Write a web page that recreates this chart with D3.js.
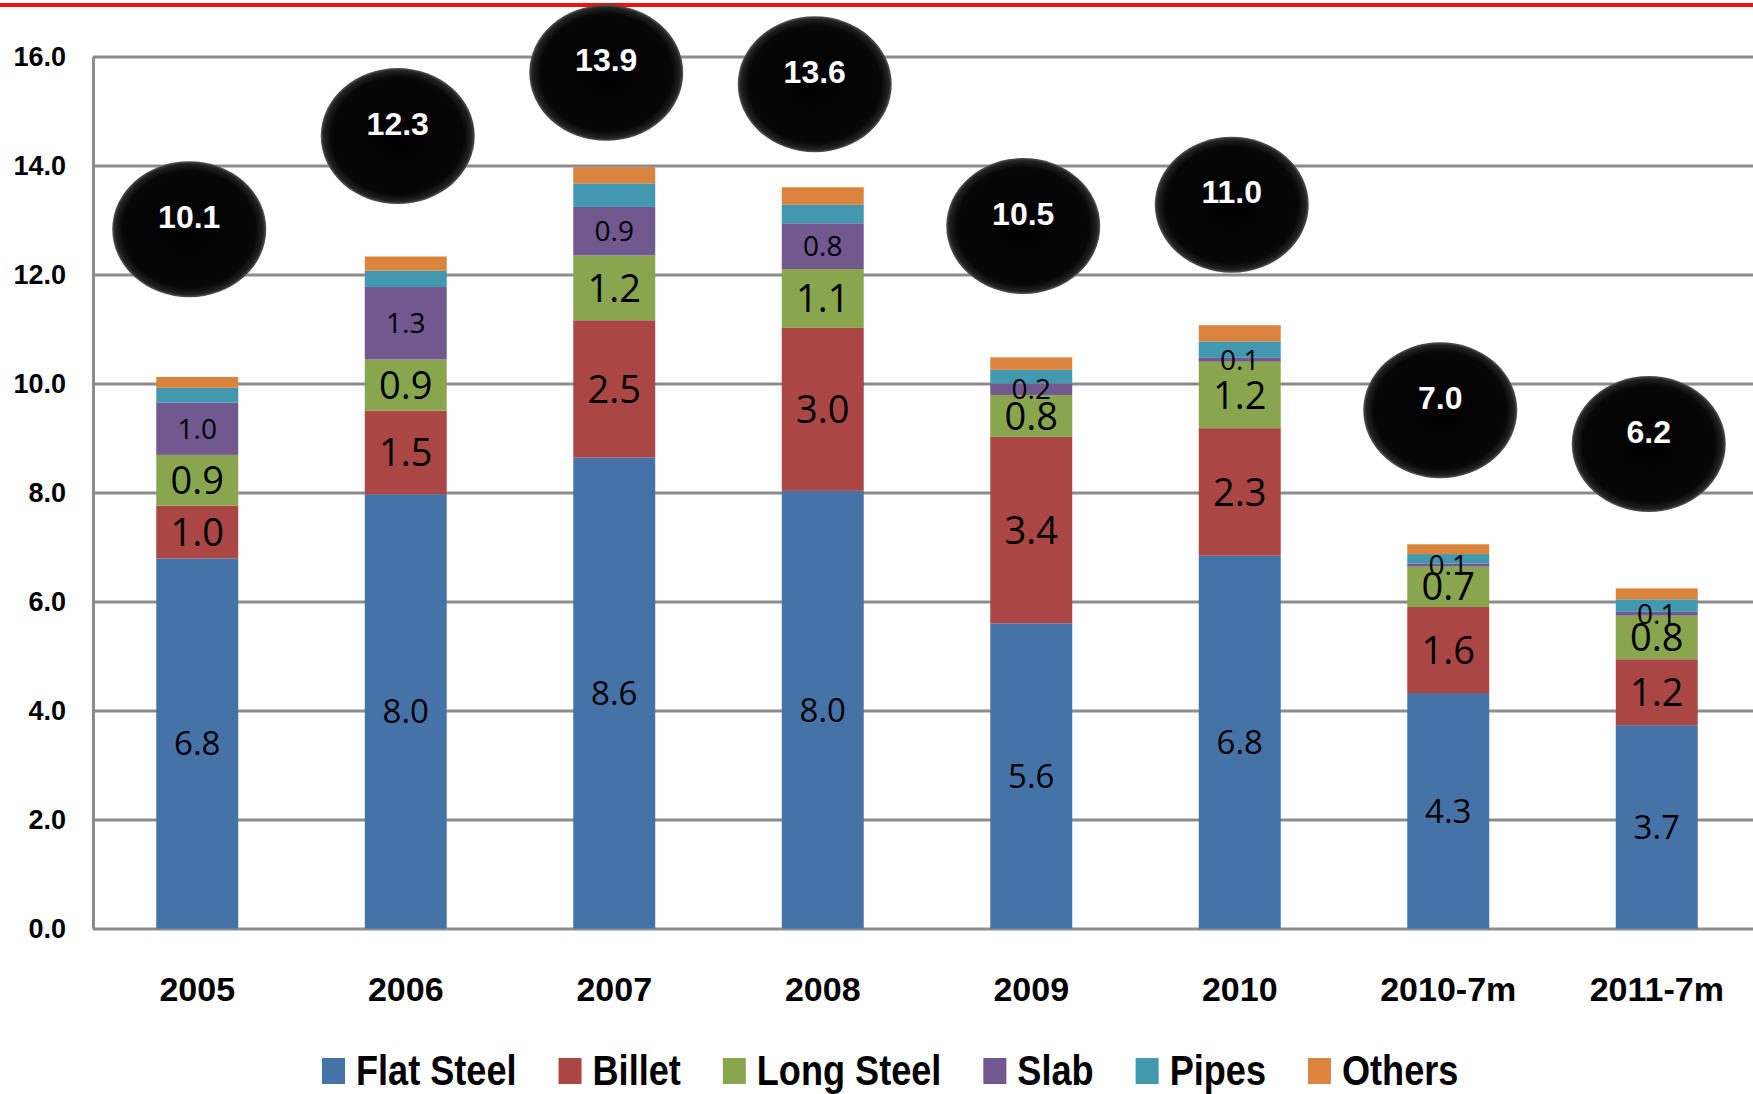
<!DOCTYPE html>
<html>
<head>
<meta charset="utf-8">
<script src="https://cdn.jsdelivr.net/npm/d3@7"></script>
<style>
    body { margin: 0; background: #fff; }
    svg { display: block; }
</style>
</head>
<body>
<svg id="chart" width="1753" height="1094"></svg>
<script>
// categories
var periods = ["2005", "2006", "2007", "2008", "2009", "2010", "2010-7m", "2011-7m"];

// series values
var flatSteel = [6.79, 7.97, 8.64, 8.03, 5.60, 6.84, 4.32, 3.73];
var billet    = [0.97, 1.53, 2.52, 2.99, 3.42, 2.34, 1.58, 1.21];
var longSteel = [0.93, 0.94, 1.19, 1.08, 0.77, 1.22, 0.74, 0.80];
var slab      = [0.96, 1.33, 0.89, 0.84, 0.21, 0.07, 0.06, 0.07];
var pipes     = [0.27, 0.30, 0.43, 0.34, 0.25, 0.30, 0.17, 0.23];
var others    = [0.20, 0.26, 0.30, 0.32, 0.23, 0.30, 0.18, 0.20];

// totals shown in the black bubbles, and the level each bubble sits at
var totals      = [10.1, 12.3, 13.9, 13.6, 10.5, 11.0, 7.0, 6.2];
var bubbleLevel = [12.83, 14.54, 15.70, 15.49, 12.89, 13.28, 9.51, 8.89];

var seriesNames = ["Flat Steel", "Billet", "Long Steel", "Slab", "Pipes", "Others"];
var seriesData  = [flatSteel, billet, longSteel, slab, pipes, others];
var seriesColors = ["#4572A7", "#AA4643", "#89A54E", "#71588F", "#4198AF", "#DB843D"];
// which series get a value label, and how big
var labelSize = [33, 38, 38, 28, 0, 0];

var yTicks = [0, 2, 4, 6, 8, 10, 12, 14, 16];

var W = 1753, H = 1094;
var margin = {left: 93, top: 56.5, bottom: 928.5};

var svg = d3.select("#chart");

var rows = periods.map(function(p, i) {
    var r = {period: p};
    seriesNames.forEach(function(s, j) { r[s] = seriesData[j][i]; });
    return r;
});

var stack = d3.stack().keys(seriesNames);
var layers = stack(rows);

var x = d3.scaleBand()
    .domain(periods)
    .range([margin.left, 1761])
    .paddingInner(0.607)
    .paddingOuter(0.3035);

var y = d3.scaleLinear()
    .domain([0, 16])
    .range([margin.bottom, margin.top]);

var color = d3.scaleOrdinal().domain(seriesNames).range(seriesColors);

// red rule at the very top
svg.append("line")
    .attr("x1", 0).attr("x2", W)
    .attr("y1", 5).attr("y2", 5)
    .attr("stroke", "#f01010")
    .attr("stroke-width", 4);

// y axis with gridlines
var yAxis = svg.append("g")
    .attr("transform", "translate(" + margin.left + ",0)")
    .call(d3.axisLeft(y)
        .tickValues(yTicks)
        .tickFormat(d3.format(".1f"))
        .tickSizeInner(-(W - margin.left))
        .tickSizeOuter(0)
        .tickPadding(27));

yAxis.select(".domain").attr("stroke", "#8c8c8c").attr("stroke-width", 3);
yAxis.selectAll(".tick line").attr("stroke", "#8c8c8c").attr("stroke-width", 3);
yAxis.selectAll(".tick text")
    .attr("fill", "#000")
    .style("font-family", "'Liberation Sans', Arial, sans-serif")
    .style("font-weight", "bold")
    .style("font-size", "27px");

// x axis labels
var xAxis = svg.append("g")
    .attr("transform", "translate(0," + margin.bottom + ")")
    .call(d3.axisBottom(x).tickSize(0));

xAxis.select(".domain").remove();
xAxis.selectAll(".tick text")
    .attr("y", 72)
    .attr("dy", 0)
    .attr("fill", "#000")
    .style("font-family", "'Liberation Sans', Arial, sans-serif")
    .style("font-weight", "bold")
    .style("font-size", "34px");

// stacked bars
var layerG = svg.append("g").attr("class", "bars")
    .selectAll("g")
    .data(layers)
    .enter()
    .append("g")
    .attr("fill", function(d) { return color(d.key); });

layerG.selectAll("rect")
    .data(function(d) { return d; })
    .enter()
    .append("rect")
    .attr("x", function(d) { return x(d.data.period); })
    .attr("y", function(d) { return y(d[1]); })
    .attr("width", x.bandwidth())
    .attr("height", function(d) { return y(d[0]) - y(d[1]); });

// value labels inside the segments
layers.forEach(function(layer, j) {
    if (!labelSize[j]) return;
    svg.append("g")
        .selectAll("text")
        .data(layer)
        .enter()
        .append("text")
        .attr("x", function(d) { return x(d.data.period) + x.bandwidth() / 2; })
        .attr("y", function(d) { return (y(d[0]) + y(d[1])) / 2; })
        .attr("dy", "0.36em")
        .attr("text-anchor", "middle")
        .style("font-family", "'Open Sans', 'Liberation Sans', sans-serif")
        .style("font-size", labelSize[j] + "px")
        .attr("fill", "#000")
        .text(function(d) { return (d[1] - d[0]).toFixed(1); });
});

// black total bubbles
var defs = svg.append("defs");
var grad = defs.append("radialGradient").attr("id", "bubble");
grad.append("stop").attr("offset", "0%").attr("stop-color", "#000");
grad.append("stop").attr("offset", "86%").attr("stop-color", "#060606");
grad.append("stop").attr("offset", "96%").attr("stop-color", "#222");
grad.append("stop").attr("offset", "100%").attr("stop-color", "#555");

var bubbles = svg.append("g")
    .selectAll("g")
    .data(periods)
    .enter()
    .append("g")
    .attr("transform", function(d, i) {
        return "translate(" + (x(d) + x.bandwidth() / 2 - 8) + "," + y(bubbleLevel[i]) + ")";
    });

bubbles.append("ellipse")
    .attr("rx", 77)
    .attr("ry", 68)
    .attr("fill", "url(#bubble)");

bubbles.append("text")
    .attr("y", -13)
    .attr("dy", "0.36em")
    .attr("text-anchor", "middle")
    .attr("fill", "#fff")
    .style("font-family", "'Liberation Sans', Arial, sans-serif")
    .style("font-weight", "bold")
    .style("font-size", "32px")
    .text(function(d, i) { return totals[i].toFixed(1); });

// legend
var legendX = 322;
var legend = svg.append("g").attr("class", "legend");
seriesNames.forEach(function(name, i) {
    var g = legend.append("g").attr("transform", "translate(" + legendX + ",0)");
    g.append("rect")
        .attr("x", 0).attr("y", 1058)
        .attr("width", 23).attr("height", 26)
        .attr("fill", seriesColors[i]);
    var t = g.append("text")
        .attr("transform", "translate(34,1085) scale(0.86,1)")
        .attr("fill", "#000")
        .style("font-family", "'Liberation Sans', Arial, sans-serif")
        .style("font-weight", "bold")
        .style("font-size", "42px")
        .text(name);
    legendX += 34 + t.node().getComputedTextLength() * 0.86 + 42;
});
</script>
</body>
</html>
